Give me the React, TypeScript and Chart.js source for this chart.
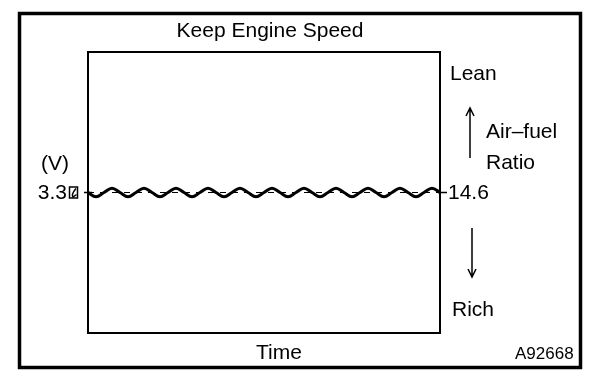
import React, { useEffect, useRef } from "react";
import { Chart, registerables } from "chart.js";

Chart.register(...registerables);

// Time samples (quarter-period steps) and sensor voltage
const timeSteps: number[] = [
  0, 1, 2, 3, 4, 5, 6, 7, 8, 9, 10, 11, 12, 13, 14, 15, 16, 17, 18, 19, 20, 21,
  22, 23, 24, 25, 26, 27, 28, 29, 30, 31, 32, 33, 34, 35, 36, 37, 38, 39, 40,
  41, 42, 43, 44,
];
const voltage: number[] = [
  3.3, 3.2, 3.3, 3.4, 3.3, 3.2, 3.3, 3.4, 3.3, 3.2, 3.3, 3.4, 3.3, 3.2, 3.3,
  3.4, 3.3, 3.2, 3.3, 3.4, 3.3, 3.2, 3.3, 3.4, 3.3, 3.2, 3.3, 3.4, 3.3, 3.2,
  3.3, 3.4, 3.3, 3.2, 3.3, 3.4, 3.3, 3.2, 3.3, 3.4, 3.3, 3.2, 3.3, 3.4, 3.3,
];
const refVoltage = 3.3;
const yMin = 0;
const yMax = 6.6;

const titleText = "Keep Engine Speed";
const xAxisText = "Time";
const unitText = "(V)";
const refVoltageLabel = "3.3";
const afrLabel = "14.6";
const leanText = "Lean";
const richText = "Rich";
const afrText1 = "Air–fuel";
const afrText2 = "Ratio";
const figId = "A92668";

const FONT = "'Liberation Sans', Arial, sans-serif";

const decorPlugin = {
  id: "decor",
  afterDraw(chart: any) {
    const { ctx, chartArea, scales } = chart;
    const { left, right, top, bottom } = chartArea;
    const yRef = scales.y.getPixelForValue(refVoltage);
    ctx.save();
    ctx.strokeStyle = "#000";
    ctx.fillStyle = "#000";

    // outer frame
    ctx.lineWidth = 3.5;
    ctx.strokeRect(19.5, 13.5, 561, 354);

    // plot box
    ctx.lineWidth = 2;
    ctx.strokeRect(left, top, right - left, bottom - top);

    // ticks at reference level
    ctx.lineWidth = 1.5;
    ctx.beginPath();
    ctx.moveTo(left - 4, yRef);
    ctx.lineTo(left + 4, yRef);
    ctx.moveTo(right - 2, yRef);
    ctx.lineTo(right + 7, yRef);
    ctx.stroke();

    // text
    ctx.font = `21px ${FONT}`;
    ctx.textBaseline = "middle";
    ctx.textAlign = "center";
    ctx.fillText(titleText, 270, 31);
    ctx.fillText(xAxisText, 279, 353);
    ctx.fillText(unitText, 55, 164);

    ctx.textAlign = "right";
    ctx.fillText(refVoltageLabel, 67, yRef + 1);

    // small boxed unit glyph after 3.3
    ctx.lineWidth = 1.5;
    ctx.strokeRect(69.5, yRef - 5.5, 8, 11);
    ctx.beginPath();
    ctx.moveTo(76, yRef - 4);
    ctx.quadraticCurveTo(71, yRef + 2, 73, yRef + 4.5);
    ctx.lineTo(76.5, yRef + 2);
    ctx.stroke();

    ctx.textAlign = "left";
    ctx.fillText(afrLabel, right + 8, yRef + 1);
    ctx.fillText(leanText, 450, 74);
    ctx.fillText(afrText1, 486, 132);
    ctx.fillText(afrText2, 486, 163);
    ctx.fillText(richText, 452, 310);

    ctx.font = `17px ${FONT}`;
    ctx.fillText(figId, 515, 354);

    // arrows
    ctx.lineWidth = 1.5;
    ctx.beginPath();
    ctx.moveTo(470, 158);
    ctx.lineTo(470, 108);
    ctx.moveTo(466, 116);
    ctx.lineTo(470, 108);
    ctx.lineTo(474, 116);
    ctx.moveTo(472, 228);
    ctx.lineTo(472, 277);
    ctx.moveTo(468, 269);
    ctx.lineTo(472, 277);
    ctx.lineTo(476, 269);
    ctx.stroke();

    ctx.restore();
  },
};

export default function App() {
  const ref = useRef<HTMLCanvasElement | null>(null);
  useEffect(() => {
    document.body.style.margin = "0";
    const canvas = ref.current;
    if (!canvas) return;
    const wave = timeSteps.map((t, i) => ({ x: t, y: voltage[i] }));
    const refLine = [
      { x: timeSteps[0], y: refVoltage },
      { x: timeSteps[timeSteps.length - 1], y: refVoltage },
    ];
    const chart = new Chart(canvas, {
      type: "line",
      data: {
        datasets: [
          {
            data: refLine,
            borderColor: "#000",
            borderWidth: 1,
            borderDash: [6, 6],
            pointRadius: 0,
            fill: false,
          },
          {
            data: wave,
            borderColor: "#000",
            borderWidth: 3,
            pointRadius: 0,
            tension: 0.4,
            fill: false,
          },
        ],
      },
      options: {
        responsive: false,
        animation: false,
        layout: { padding: { left: 88, top: 52, right: 168, bottom: 59 } },
        plugins: {
          legend: { display: false },
          tooltip: { enabled: false },
          title: { display: false },
        },
        scales: {
          x: {
            type: "linear",
            min: timeSteps[0],
            max: timeSteps[timeSteps.length - 1],
            display: false,
          },
          y: { type: "linear", min: yMin, max: yMax, display: false },
        },
      },
      plugins: [decorPlugin],
    });
    return () => chart.destroy();
  }, []);
  return (
    <div style={{ position: "absolute", left: 0, top: 0, width: 608, height: 392, background: "#fff" }}>
      <canvas ref={ref} width={608} height={392} />
    </div>
  );
}
